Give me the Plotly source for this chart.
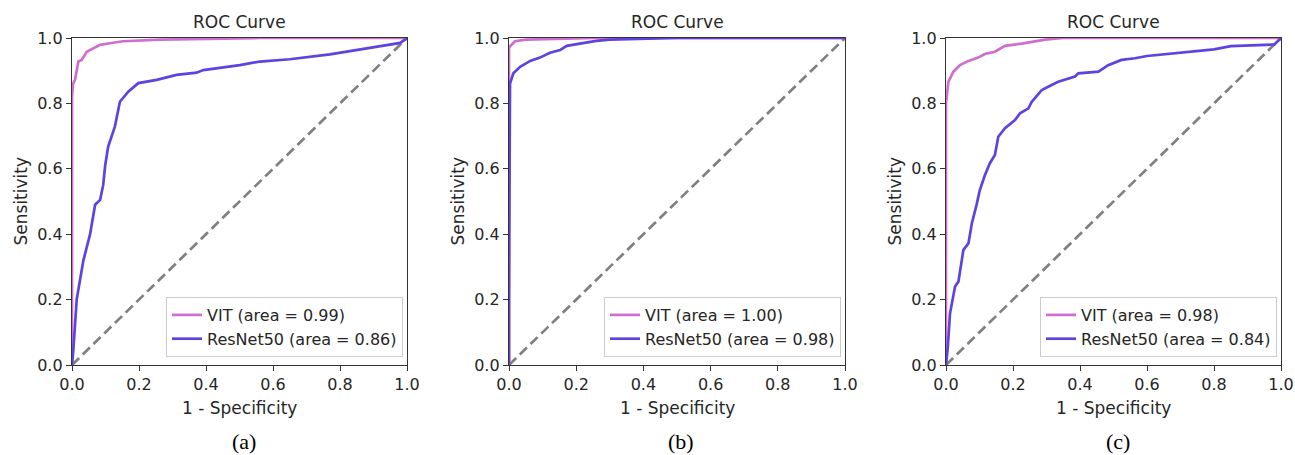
import plotly.graph_objects as go

# ---------------- data ----------------
captions = ["(a)", "(b)", "(c)"]
vit_auc = ["0.99", "1.00", "0.98"]
res_auc = ["0.86", "0.98", "0.84"]

vit_fpr_a = [0, 0, 0.003, 0.009, 0.019, 0.029, 0.044, 0.064, 0.084, 0.113, 0.152, 0.263, 0.56, 1.0]
vit_tpr_a = [0, 0.82, 0.86, 0.872, 0.928, 0.933, 0.958, 0.968, 0.979, 0.984, 0.99, 0.995, 1.0, 1.0]
res_fpr_a = [0, 0.004, 0.014, 0.025, 0.034, 0.054, 0.069, 0.084, 0.093, 0.099, 0.108, 0.128, 0.143,
             0.168, 0.198, 0.253, 0.312, 0.372, 0.392, 0.452, 0.501, 0.561, 0.65, 0.77, 0.83, 0.92, 0.98, 1.0]
res_tpr_a = [0, 0.046, 0.2, 0.27, 0.32, 0.40, 0.49, 0.505, 0.55, 0.61, 0.668, 0.729, 0.805,
             0.836, 0.862, 0.872, 0.887, 0.894, 0.902, 0.910, 0.917, 0.928, 0.935, 0.95, 0.96, 0.975, 0.985, 1.0]

vit_fpr_b = [0, 0, 0.003, 0.018, 0.05, 0.26, 1.0]
vit_tpr_b = [0, 0.97, 0.975, 0.99, 0.995, 1.0, 1.0]
res_fpr_b = [0, 0, 0.003, 0.013, 0.033, 0.063, 0.092, 0.122, 0.152, 0.172, 0.211, 0.26, 0.30, 0.5, 1.0]
res_tpr_b = [0, 0.2, 0.861, 0.892, 0.912, 0.93, 0.94, 0.955, 0.963, 0.976, 0.983, 0.991, 0.995, 1.0, 1.0]

vit_fpr_c = [0, 0, 0.007, 0.022, 0.042, 0.067, 0.096, 0.116, 0.146, 0.176, 0.226, 0.266, 0.296, 0.35, 1.0]
vit_tpr_c = [0, 0.8, 0.866, 0.897, 0.917, 0.93, 0.94, 0.951, 0.958, 0.976, 0.983, 0.991, 0.995, 1.0, 1.0]
res_fpr_c = [0, 0.005, 0.012, 0.027, 0.037, 0.052, 0.067, 0.077, 0.091, 0.101, 0.116, 0.131, 0.146, 0.156,
             0.176, 0.206, 0.221, 0.246, 0.256, 0.286, 0.305, 0.335, 0.385, 0.395, 0.455, 0.484, 0.524,
             0.564, 0.6, 0.7, 0.8, 0.85, 0.95, 0.98, 1.0]
res_tpr_c = [0, 0.05, 0.158, 0.24, 0.255, 0.352, 0.372, 0.433, 0.489, 0.535, 0.58, 0.617, 0.642, 0.698,
             0.724, 0.749, 0.77, 0.785, 0.805, 0.841, 0.851, 0.866, 0.882, 0.892, 0.897, 0.917, 0.933,
             0.938, 0.945, 0.955, 0.965, 0.975, 0.978, 0.98, 1.0]

diag = [0, 1]
ticks = [0, 0.2, 0.4, 0.6, 0.8, 1.0]

panels = [
    (vit_fpr_a, vit_tpr_a, res_fpr_a, res_tpr_a),
    (vit_fpr_b, vit_tpr_b, res_fpr_b, res_tpr_b),
    (vit_fpr_c, vit_tpr_c, res_fpr_c, res_tpr_c),
]

# ---------------- layout geometry ----------------
W, H = 1295, 455
x_px = [(72, 407), (509, 845), (946, 1281)]
y_top, y_bot = 38, 365
VIT_C = "#d06ed0"
RES_C = "#6042e0"
FONT = "DejaVu Sans"
TXT = "#262626"

fig = go.Figure()
layout = dict(
    width=W, height=H, margin=dict(l=0, r=0, t=0, b=0),
    paper_bgcolor="white", plot_bgcolor="white",
    font=dict(family=FONT, size=16, color=TXT),
    annotations=[],
)

for i, (vf, vt, rf, rt) in enumerate(panels):
    n = "" if i == 0 else str(i + 1)
    xa, ya = "x" + n, "y" + n
    leg = "legend" if i == 0 else "legend" + str(i + 1)
    fig.add_trace(go.Scatter(x=diag, y=diag, mode="lines", xaxis=xa, yaxis=ya, showlegend=False,
                             line=dict(color="#808080", width=2.7, dash="10px,5px")))
    fig.add_trace(go.Scatter(x=vf, y=vt, mode="lines", xaxis=xa, yaxis=ya, legend=leg,
                             name=f"VIT (area = {vit_auc[i]})",
                             line=dict(color=VIT_C, width=2.7)))
    fig.add_trace(go.Scatter(x=rf, y=rt, mode="lines", xaxis=xa, yaxis=ya, legend=leg,
                             name=f"ResNet50 (area = {res_auc[i]})",
                             line=dict(color=RES_C, width=2.7)))
    x0, x1 = x_px[i]
    dom_x = [x0 / W, x1 / W]
    dom_y = [1 - y_bot / H, 1 - y_top / H]
    axcommon = dict(range=[0, 1], showgrid=False, zeroline=False, showline=True, mirror=True,
                    linecolor="#333333", linewidth=1.3, ticks="outside", ticklen=5, tickwidth=1.2,
                    tickcolor="#333333", tickvals=ticks, tickformat=".1f", automargin=False,
                    tickfont=dict(family=FONT, size=16, color=TXT), fixedrange=True)
    layout["xaxis" + n] = dict(domain=dom_x, anchor=ya, **axcommon)
    layout["yaxis" + n] = dict(domain=dom_y, anchor=xa, **axcommon)
    layout[leg] = dict(x=(x1 - 4) / W, y=1 - (y_bot - 8) / H, xanchor="right", yanchor="bottom",
                       xref="paper", yref="paper",
                       bgcolor="rgba(255,255,255,0.85)", bordercolor="#cccccc", borderwidth=1,
                       font=dict(family=FONT, size=16, color=TXT), tracegroupgap=0,
                       itemwidth=30)
    cx = (x0 + x1) / 2 / W
    cy = 1 - (y_top + y_bot) / 2 / H
    ann = layout["annotations"]
    ann.append(dict(text="ROC Curve", x=cx, y=1 - 22 / H, xref="paper", yref="paper",
                    showarrow=False, font=dict(family=FONT, size=17, color=TXT),
                    xanchor="center", yanchor="middle"))
    ann.append(dict(text="1 - Specificity", x=cx, y=1 - 408 / H, xref="paper", yref="paper",
                    showarrow=False, font=dict(family=FONT, size=17, color=TXT),
                    xanchor="center", yanchor="middle"))
    ann.append(dict(text="Sensitivity", x=(x0 - 52) / W, y=cy, xref="paper", yref="paper",
                    showarrow=False, textangle=-90, font=dict(family=FONT, size=17, color=TXT),
                    xanchor="center", yanchor="middle"))
    ann.append(dict(text=captions[i], x=((x0 + x1) / 2 + 4) / W, y=1 - 441 / H, xref="paper", yref="paper",
                    showarrow=False, font=dict(family="Liberation Serif", size=22, color="black"),
                    xanchor="center", yanchor="middle"))

fig.update_layout(**layout)
fig.write_html("out.html", config={"displayModeBar": False},
               post_script="document.body.style.margin='0';document.body.style.overflow='hidden';")
